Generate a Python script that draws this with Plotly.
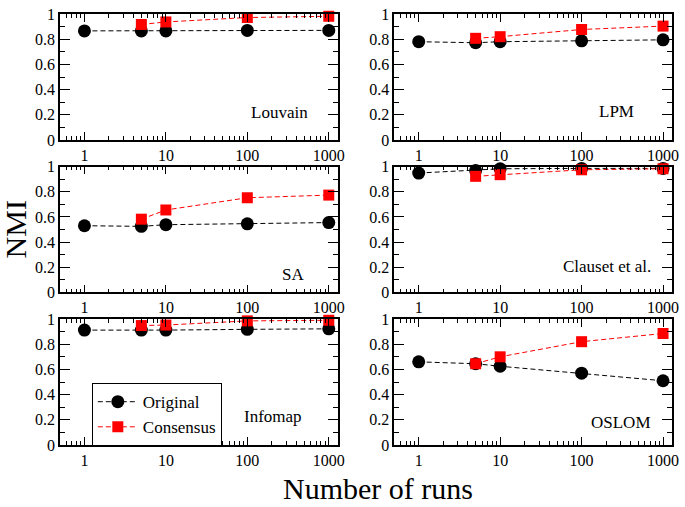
import plotly.graph_objects as go
from plotly.subplots import make_subplots

# runs on the x axis
runs_orig = [1, 5, 10, 100, 1000]
runs_cons = [5, 10, 100, 1000]

methods = ['Louvain', 'LPM', 'SA', 'Clauset et al.', 'Infomap', 'OSLOM']

# NMI values
louvain_orig = [0.866, 0.866, 0.866, 0.87, 0.87]
louvain_cons = [0.917, 0.937, 0.972, 0.982]
lpm_orig = [0.78, 0.772, 0.78, 0.787, 0.795]
lpm_cons = [0.807, 0.82, 0.877, 0.904]
sa_orig = [0.53, 0.525, 0.538, 0.545, 0.555]
sa_cons = [0.582, 0.655, 0.752, 0.773]
clauset_orig = [0.948, 0.968, 0.982, 0.985, 0.985]
clauset_cons = [0.922, 0.935, 0.974, 0.982]
infomap_orig = [0.912, 0.912, 0.912, 0.918, 0.922]
infomap_cons = [0.948, 0.952, 0.985, 0.99]
oslom_orig = [0.66, 0.645, 0.625, 0.57, 0.51]
oslom_cons = [0.645, 0.70, 0.82, 0.885]

orig_series = [louvain_orig, lpm_orig, sa_orig, clauset_orig, infomap_orig, oslom_orig]
cons_series = [louvain_cons, lpm_cons, sa_cons, clauset_cons, infomap_cons, oslom_cons]

# where each method label sits inside its panel (domain coords)
label_pos = [(0.90, 0.22), (0.87, 0.23), (0.885, 0.14),
             (0.93, 0.21), (0.88, 0.23), (0.93, 0.18)]

FONT = 'Liberation Serif, Times New Roman, serif'

fig = make_subplots(rows=3, cols=2, horizontal_spacing=0.0924, vertical_spacing=0.0615)

for i, name in enumerate(methods):
    r, c = i // 2 + 1, i % 2 + 1
    fig.add_trace(go.Scatter(
        x=runs_orig, y=orig_series[i], mode='lines+markers', name='Original',
        line=dict(color='black', width=1, dash='5px,3px'),
        marker=dict(symbol='circle', size=13, color='black'),
        cliponaxis=False, showlegend=(i == 0)), row=r, col=c)
    fig.add_trace(go.Scatter(
        x=runs_cons, y=cons_series[i], mode='lines+markers', name='Consensus',
        line=dict(color='#ff0000', width=1, dash='5px,3px'),
        marker=dict(symbol='square', size=11, color='#ff0000'),
        cliponaxis=False, showlegend=(i == 0)), row=r, col=c)
    ax = '' if i == 0 else str(i + 1)
    fig.add_annotation(text=name, xref='x%s domain' % ax, yref='y%s domain' % ax,
                       x=label_pos[i][0], y=label_pos[i][1], xanchor='right', yanchor='middle',
                       showarrow=False, font=dict(family=FONT, size=17, color='black'))

fig.update_xaxes(type='log', range=[-0.30, 3.11], dtick=1, tick0=0, exponentformat='none',
                 showline=True, linecolor='black', linewidth=1.5, mirror='allticks',
                 ticks='inside', ticklen=8, tickwidth=1, tickcolor='black',
                 minor=dict(ticks='inside', ticklen=4, dtick='D1', tickcolor='black', showgrid=False),
                 showgrid=False, zeroline=False,
                 tickfont=dict(family=FONT, size=16, color='black'))
fig.update_yaxes(range=[0, 1], dtick=0.2, showline=True, linecolor='black', linewidth=1.5,
                 mirror='allticks', ticks='inside', ticklen=10, tickwidth=1, tickcolor='black',
                 minor=dict(ticks='inside', ticklen=5, dtick=0.1, tickcolor='black', showgrid=False),
                 showgrid=False, zeroline=False,
                 tickfont=dict(family=FONT, size=16, color='black'))

fig.add_annotation(text='NMI', xref='paper', yref='paper', x=-0.072, y=0.5,
                   textangle=-90, showarrow=False, xanchor='center', yanchor='middle',
                   font=dict(family=FONT, size=30, color='black'))
fig.add_annotation(text='Number of runs', xref='paper', yref='paper', x=0.52, y=-0.102,
                   showarrow=False, xanchor='center', yanchor='middle',
                   font=dict(family=FONT, size=30, color='black'))

fig.update_layout(
    width=685, height=507,
    margin=dict(l=60, r=8, t=6, b=62),
    paper_bgcolor='white', plot_bgcolor='white',
    font=dict(family=FONT, color='black'),
    legend=dict(x=0.052, y=0.1435, xanchor='left', yanchor='top',
                bordercolor='black', borderwidth=1, bgcolor='white',
                font=dict(family=FONT, size=17, color='black'),
                tracegroupgap=0, itemwidth=40),
)

# drop the page's default body margin so the figure sits at the window corner
fig.write_html('out.html', config={'displayModeBar': False},
               post_script="document.body.style.margin='0';")
